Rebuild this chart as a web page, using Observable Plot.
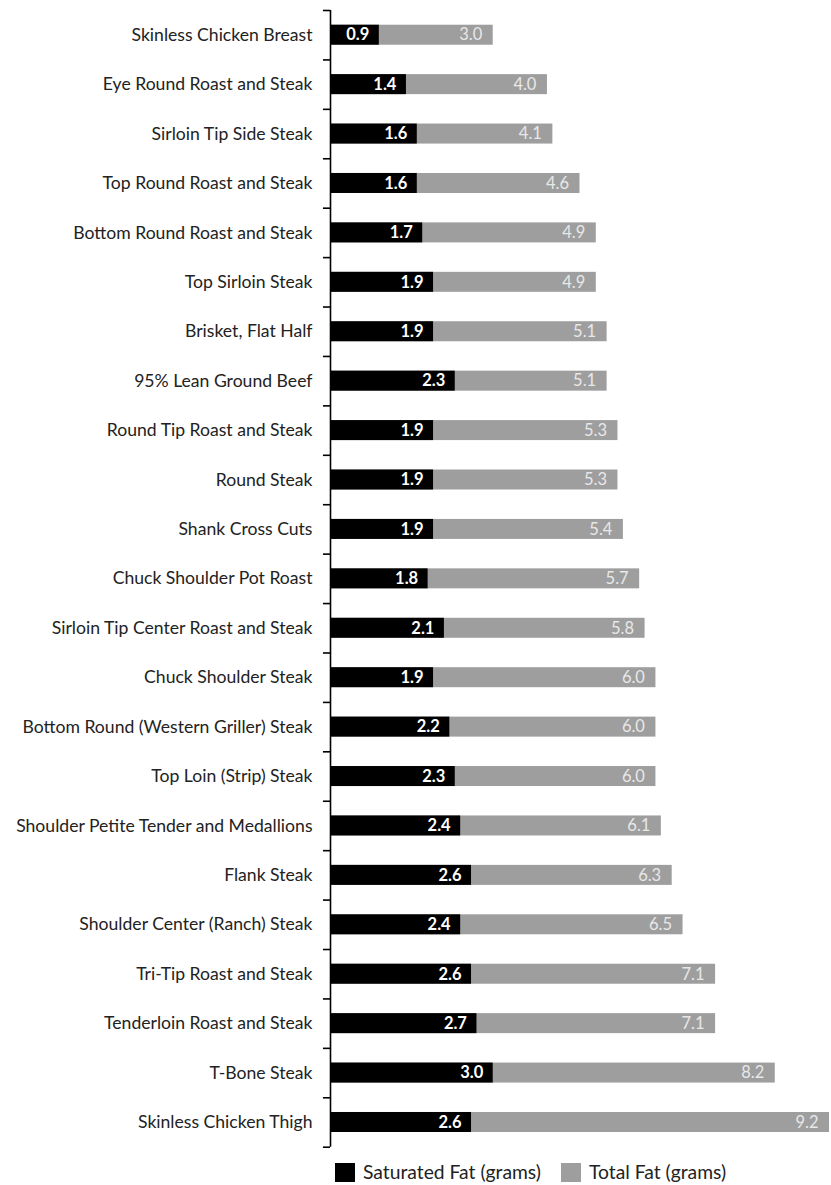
<!DOCTYPE html>
<html>
<head>
<meta charset="utf-8">
<script src="https://cdn.jsdelivr.net/npm/d3@7"></script>
<script src="https://cdn.jsdelivr.net/npm/@observablehq/plot@0.6"></script>
<style>
  html, body { margin: 0; padding: 0; background: #fff; }
  body { width: 831px; height: 1185px; overflow: hidden; font-family: Lato, "Open Sans", sans-serif; }
  #legend { display: flex; align-items: center; margin-left: 335px; margin-top: 11px; font-size: 19.3px; color: #222; line-height: 22px; }
  .sw { width: 20px; height: 19px; display: inline-block; margin-right: 8px; }
  .item { display: flex; align-items: center; margin-right: 20px; }
</style>
</head>
<body>
<div id="chart"></div>
<div id="legend"></div>
<script>
const categories = ["Skinless Chicken Breast","Eye Round Roast and Steak","Sirloin Tip Side Steak","Top Round Roast and Steak","Bottom Round Roast and Steak","Top Sirloin Steak","Brisket, Flat Half","95% Lean Ground Beef","Round Tip Roast and Steak","Round Steak","Shank Cross Cuts","Chuck Shoulder Pot Roast","Sirloin Tip Center Roast and Steak","Chuck Shoulder Steak","Bottom Round (Western Griller) Steak","Top Loin (Strip) Steak","Shoulder Petite Tender and Medallions","Flank Steak","Shoulder Center (Ranch) Steak","Tri-Tip Roast and Steak","Tenderloin Roast and Steak","T-Bone Steak","Skinless Chicken Thigh"];
const saturatedFat = [0.9,1.4,1.6,1.6,1.7,1.9,1.9,2.3,1.9,1.9,1.9,1.8,2.1,1.9,2.2,2.3,2.4,2.6,2.4,2.6,2.7,3.0,2.6];
const totalFat = [3.0,4.0,4.1,4.6,4.9,4.9,5.1,5.1,5.3,5.3,5.4,5.7,5.8,6.0,6.0,6.0,6.1,6.3,6.5,7.1,7.1,8.2,9.2];
const seriesNames = ["Saturated Fat (grams)", "Total Fat (grams)"];
const seriesColors = ["#000000", "#9e9e9e"];

const rows = categories.map((c, i) => ({cut: c, sat: saturatedFat[i], total: totalFat[i]}));

const H = 1150, MT = 10, MB = 3.3;
const step = (H - MT - MB) / categories.length;
const inset = (step - 20) / 2;

const chart = Plot.plot({
  width: 831,
  height: H,
  marginLeft: 330,
  marginRight: 2,
  marginTop: MT,
  marginBottom: MB,
  style: {fontFamily: "Lato, 'Open Sans', sans-serif", fontSize: "17.6px", color: "#222", background: "#fff"},
  x: {domain: [0, 9.2], axis: null},
  y: {domain: categories, padding: 0, round: false, label: null, tickSize: 0, tickPadding: 18},
  marks: [
    Plot.barX(rows, {y: "cut", x: "total", fill: seriesColors[1], insetTop: inset, insetBottom: inset}),
    Plot.barX(rows, {y: "cut", x: "sat", fill: seriesColors[0], insetTop: inset, insetBottom: inset}),
    Plot.text(rows, {y: "cut", x: "sat", text: d => d.sat.toFixed(1), textAnchor: "end", dx: -10, fill: "#fff", fontWeight: "bold", fontSize: 16.5}),
    Plot.text(rows, {y: "cut", x: "total", text: d => d.total.toFixed(1), textAnchor: "end", dx: -11, fill: "#e8e8e8", fontSize: 16.5}),
    Plot.ruleX([0], {stroke: "#000", strokeWidth: 1.6}),
    Plot.ruleY(categories, {y: d => d, x1: d => -0.13, x2: d => 0, dy: -step / 2, stroke: "#000", strokeWidth: 1.6}),
    Plot.ruleY(categories.slice(-1), {y: d => d, x1: d => -0.13, x2: d => 0, dy: step / 2, stroke: "#000", strokeWidth: 1.6})
  ]
});
document.getElementById("chart").appendChild(chart);

const legend = document.getElementById("legend");
seriesNames.forEach((name, i) => {
  const item = document.createElement("div");
  item.className = "item";
  const sw = document.createElement("span");
  sw.className = "sw";
  sw.style.background = seriesColors[i];
  const t = document.createElement("span");
  t.textContent = name;
  item.appendChild(sw);
  item.appendChild(t);
  legend.appendChild(item);
});
</script>
</body>
</html>
